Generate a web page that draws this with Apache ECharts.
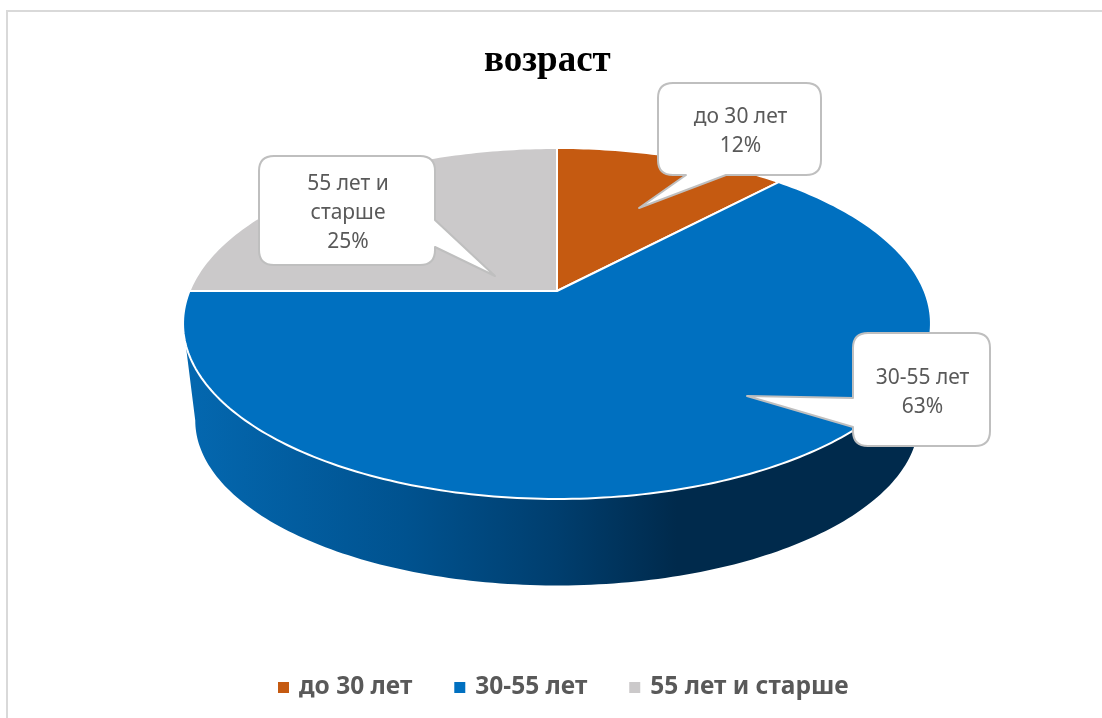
<!DOCTYPE html>
<html><head><meta charset="utf-8">
<style>html,body{margin:0;padding:0;background:#fff}#c{width:1102px;height:718px}</style>
<script src="https://cdn.jsdelivr.net/npm/echarts@6/dist/echarts.min.js"></script>
</head><body><div id="c"></div>
<script>
const chartTitle = 'возраст';
const categories = ['до 30 лет', '30-55 лет', '55 лет и старше'];
const values = [12, 63, 25];
const calloutLines = [['до 30 лет'], ['30-55 лет'], ['55 лет и', 'старше']];

const colors = ['#C55A11', '#0070C0', '#CBC9CA'];
const FONT = '"Noto Sans", sans-serif';
const total = values.reduce((a, b) => a + b, 0);

// perspective disc: centre (apex) + radii + foreshortening k
const K = 0.185;
const topDisc = { cx: 557, cy: 291, rx: 367.5, ry: 169.5 };
const baseDisc = { cx: 557, cy: 390, rx: 355.5, ry: 159.3 };
const project = (deg, d) => {
  const t = deg * Math.PI / 180, w = 1 + K * Math.cos(t);
  return [d.cx + d.rx * Math.sin(t) / w, d.cy - d.ry * Math.cos(t) / w];
};
const arc = (a, b, d) => {
  const out = [], n = Math.max(2, Math.ceil(Math.abs(b - a)));
  for (let i = 0; i <= n; i++) out.push(project(a + (b - a) * i / n, d));
  return out;
};
const limb = Math.acos(-K) * 180 / Math.PI; // where the disc outline turns
const sliceStart = i => values.slice(0, i).reduce((a, b) => a + b, 0) / total * 360;

const wallGradient = { type: 'linear', x: 0, y: 0, x2: 1, y2: 0, colorStops: [
  { offset: 0, color: '#0468B0' }, { offset: 0.3, color: '#00528F' },
  { offset: 0.5, color: '#003E6E' }, { offset: 0.66, color: '#002A4C' },
  { offset: 1, color: '#002A4C' } ] };

function sliceRenderer(i) {
  return function () {
    const a = sliceStart(i), b = a + values[i] / total * 360;
    const children = [];
    const wa = Math.max(a, limb), wb = Math.min(b, 360 - limb);
    if (wb > wa) {
      children.push({ type: 'polygon',
        shape: { points: arc(wa, wb, topDisc).concat(arc(wb, wa, baseDisc)) },
        style: { fill: wallGradient, stroke: null } });
    }
    children.push({ type: 'polygon',
      shape: { points: [[topDisc.cx, topDisc.cy]].concat(arc(a, b, topDisc)) },
      style: { fill: colors[i], stroke: '#fff', lineWidth: 2, lineJoin: 'round' } });
    return { type: 'group', children };
  };
}

// callout boxes: [x0, y0, x1, y1], tail base side, base from/to, tail tip
const callouts = [
  { box: [658, 83, 821, 175], side: 'bottom', base: [686, 726], tip: [639, 208] },
  { box: [853, 333, 990, 446], side: 'left', base: [398, 427], tip: [747, 396] },
  { box: [259, 156, 435, 265], side: 'right', base: [220, 247], tip: [495, 276] }
];
function calloutPath(c) {
  const [x0, y0, x1, y1] = c.box, r = 15, t = c.tip, s = c.base;
  let p = `M${x0 + r} ${y0}L${x1 - r} ${y0}Q${x1} ${y0} ${x1} ${y0 + r}`;
  if (c.side === 'right') p += `L${x1} ${s[0]}L${t[0]} ${t[1]}L${x1} ${s[1]}`;
  p += `L${x1} ${y1 - r}Q${x1} ${y1} ${x1 - r} ${y1}`;
  if (c.side === 'bottom') p += `L${s[1]} ${y1}L${t[0]} ${t[1]}L${s[0]} ${y1}`;
  p += `L${x0 + r} ${y1}Q${x0} ${y1} ${x0} ${y1 - r}`;
  if (c.side === 'left') p += `L${x0} ${s[1]}L${t[0]} ${t[1]}L${x0} ${s[0]}`;
  p += `L${x0} ${y0 + r}Q${x0} ${y0} ${x0 + r} ${y0}Z`;
  return p;
}
function calloutRenderer(params) {
  const i = params.dataIndex, c = callouts[i];
  const lines = calloutLines[i].concat([Math.round(values[i] / total * 100) + '%']);
  return { type: 'group', children: [
    { type: 'path', shape: { pathData: calloutPath(c) },
      style: { fill: '#fff', stroke: '#BFBFBF', lineWidth: 2, lineJoin: 'round' } },
    { type: 'text', style: { text: lines.join('\n'),
        x: (c.box[0] + c.box[2]) / 2 + 1, y: (c.box[1] + c.box[3]) / 2 + 3,
        align: 'center', verticalAlign: 'middle',
        font: '21px ' + FONT, lineHeight: 29, fill: '#595959' } }
  ] };
}

const series = categories.map((name, i) => ({
  type: 'custom', name, coordinateSystem: 'none', z: i === 1 ? 3 : 2,
  itemStyle: { color: colors[i] }, silent: true, animation: false,
  data: [values[i]], renderItem: sliceRenderer(i)
}));
series.push({ type: 'custom', name: 'callouts', coordinateSystem: 'none', z: 5,
  silent: true, animation: false, data: values, renderItem: calloutRenderer });

echarts.init(document.getElementById('c'), null, { renderer: 'canvas' }).setOption({
  animation: false,
  backgroundColor: '#fff',
  title: { text: chartTitle, left: 479, top: 38,
    textStyle: { fontFamily: '"Liberation Serif", serif', fontWeight: 'bold', fontSize: 37, color: '#000' } },
  legend: { data: categories, left: 273, top: 670, icon: 'rect', itemWidth: 11, itemHeight: 11, itemGap: 42,
    selectedMode: false,
    textStyle: { fontFamily: FONT, fontWeight: 'bold', fontSize: 24.5, color: '#595959', padding: [0, 0, 0, 5] } },
  graphic: [{ type: 'polyline', silent: true, shape: { points: [[7, 718], [7, 11], [1102, 11]] },
    style: { stroke: '#D9D9D9', lineWidth: 2, fill: null } }],
  series
});
</script></body></html>
